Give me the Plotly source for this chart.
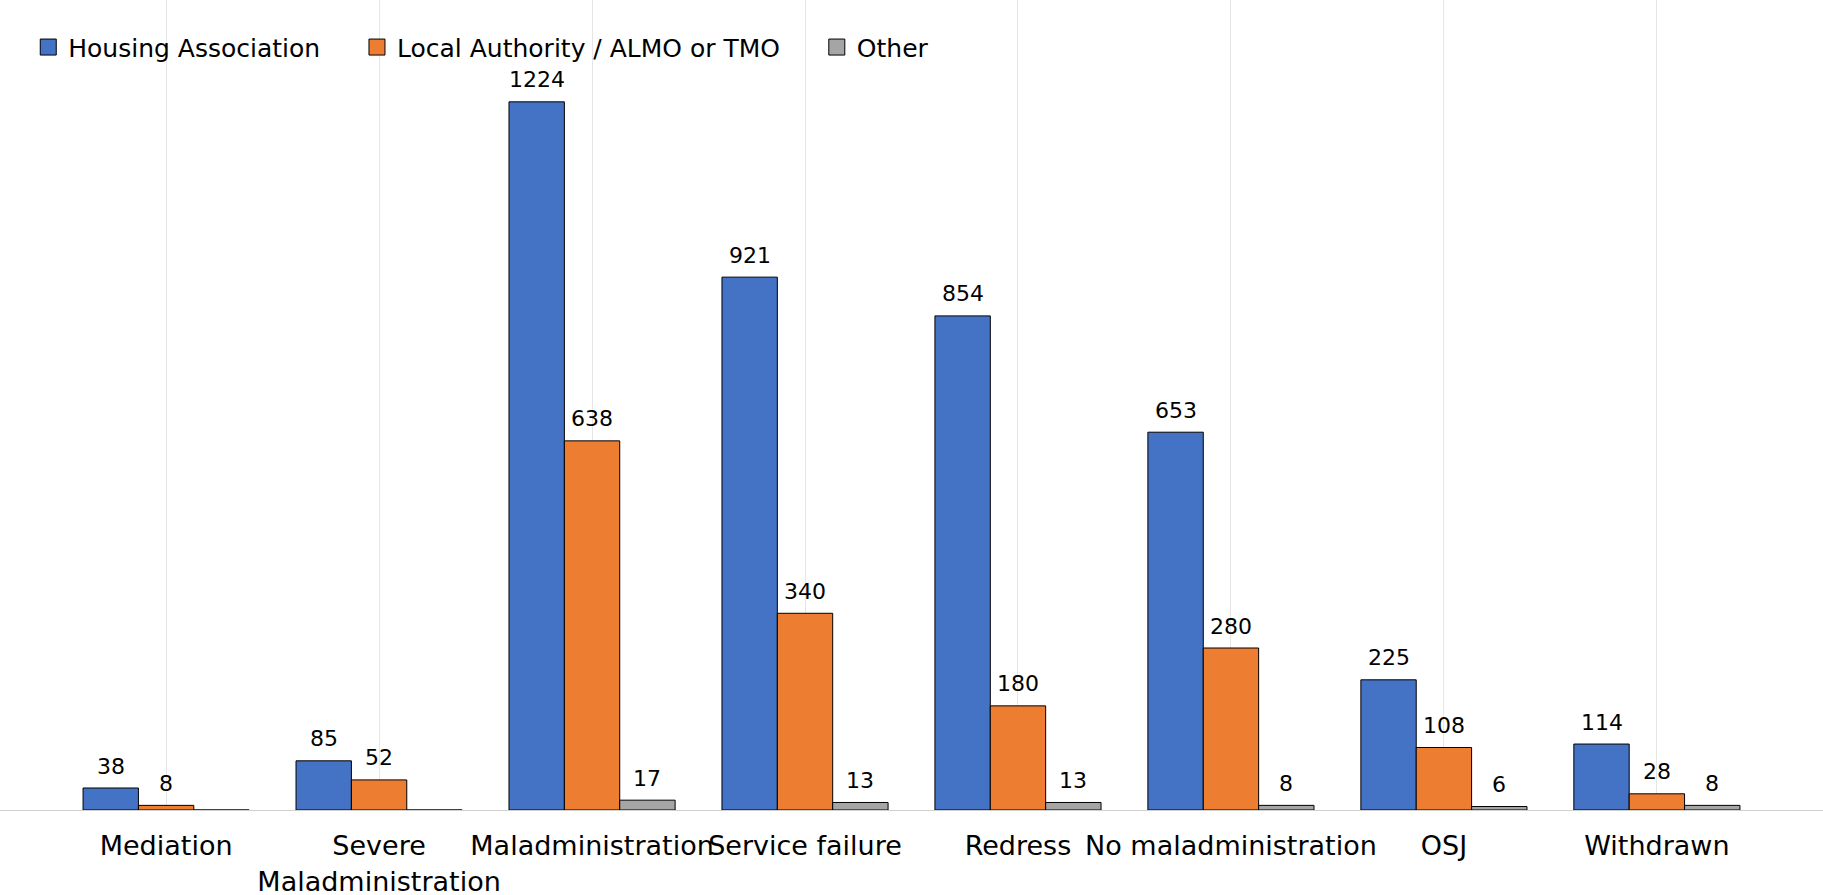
import plotly.graph_objects as go

categories = ["Mediation", "Severe<br>Maladministration", "Maladministration", "Service failure",
              "Redress", "No maladministration", "OSJ", "Withdrawn"]
housing_association = [38, 85, 1224, 921, 854, 653, 225, 114]
local_authority = [8, 52, 638, 340, 180, 280, 108, 28]
other = [0, 0, 17, 13, 13, 8, 6, 8]

series = [
    ("Housing Association", housing_association, "#4472C4"),
    ("Local Authority / ALMO or TMO", local_authority, "#ED7D31"),
    ("Other", other, "#A5A5A5"),
]

W, H = 1823, 895
BARGAP = 0.22
RANGE = [-0.78, 7.78]
cat_px = W / (RANGE[1] - RANGE[0])
bar_px = cat_px * (1 - BARGAP) / len(series)
PAD = "\u00a0" * 4

fig = go.Figure()
for i, (name, vals, color) in enumerate(series):
    fig.add_trace(go.Bar(
        name=name, x=categories, y=vals, showlegend=False,
        marker=dict(color=color, line=dict(color="#000000", width=1)),
    ))
    offset = (i - (len(series) - 1) / 2) * bar_px
    for c, v in zip(categories, vals):
        if v:
            fig.add_annotation(x=c, y=v, text=str(v), showarrow=False,
                               xshift=offset, yshift=22, yanchor="middle",
                               font=dict(family="DejaVu Sans", size=22, color="#000000"))

# legend entries (square swatches)
for name, vals, color in series:
    fig.add_trace(go.Scatter(
        name=name + PAD, x=[None], y=[None], mode="markers",
        marker=dict(symbol="square", size=20, color=color, line=dict(color="#000000", width=1)),
    ))

fig.update_layout(
    width=W, height=H,
    margin=dict(l=0, r=0, t=0, b=85),
    barmode="group", bargap=BARGAP, bargroupgap=0,
    plot_bgcolor="white", paper_bgcolor="white",
    font=dict(family="DejaVu Sans", color="#000000"),
    legend=dict(orientation="h", x=0.0155, y=0.970, xanchor="left", yanchor="top",
                font=dict(size=25), bgcolor="rgba(0,0,0,0)", itemsizing="trace"),
)
fig.update_xaxes(
    range=RANGE, showgrid=True, gridcolor="#e6e6e6", gridwidth=1,
    showline=True, linecolor="#d0d0d0", linewidth=1, automargin=False,
    tickangle=0, tickfont=dict(size=27, color="#000000"), ticks="",
    ticklabelstandoff=12,
)
fig.update_yaxes(range=[0, 1400], showgrid=False, showticklabels=False, zeroline=False)

fig.write_html("out.html")
